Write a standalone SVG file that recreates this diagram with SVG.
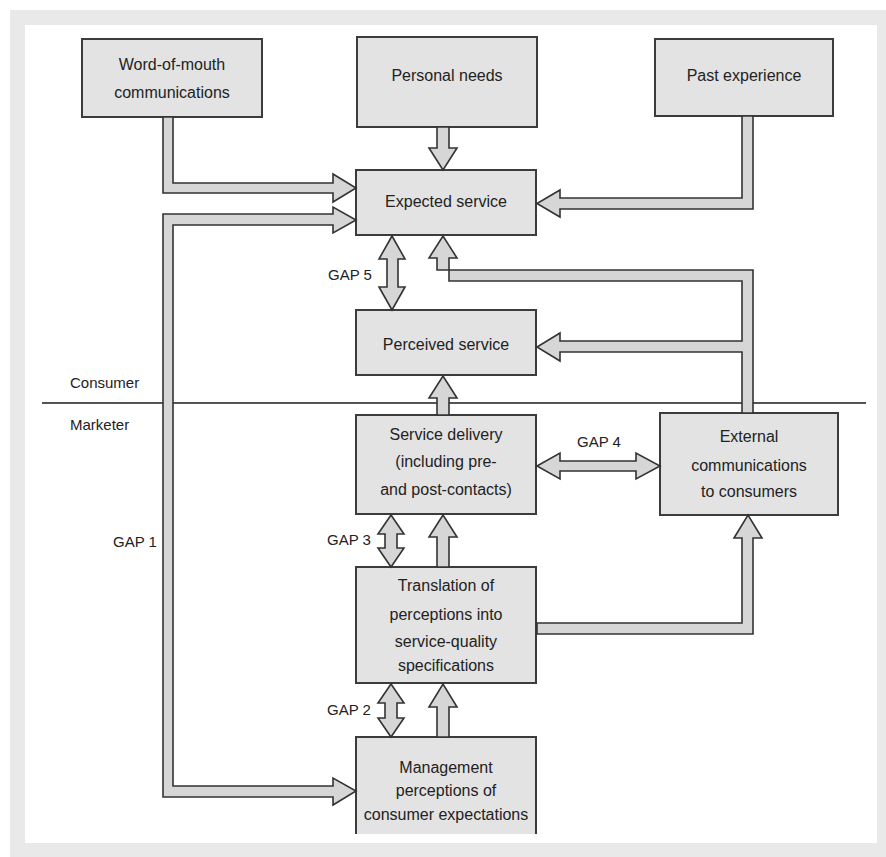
<svg xmlns="http://www.w3.org/2000/svg" width="886" height="857" viewBox="0 0 886 857">
<style>
.box{fill:#e3e3e3;stroke:#3c3c3c;stroke-width:2}
.t{font-family:"Liberation Sans",Arial,sans-serif;font-size:16px;fill:#222;text-anchor:middle}
.lbl{font-family:"Liberation Sans",Arial,sans-serif;font-size:15px;fill:#222}
.arr{fill:#d6d6d6;stroke:#333;stroke-width:1.6;stroke-linejoin:miter}
.div{stroke:#555;stroke-width:2}
</style>
<rect x="0" y="0" width="886" height="857" fill="#ffffff"/>
<rect x="10" y="10" width="876" height="847" fill="#e9e9e9"/>
<rect x="25" y="25" width="852" height="818" fill="#ffffff"/>

<line class="div" x1="42" y1="403" x2="866" y2="403"/>
<text class="lbl" x="70" y="388">Consumer</text>
<text class="lbl" x="70" y="430">Marketer</text>

<g id="word-of-mouth">
<rect class="box" x="82" y="39" width="180" height="78"/>
<text class="t" x="172" y="70">Word-of-mouth</text>
<text class="t" x="172" y="98">communications</text>
</g>
<g id="personal-needs">
<rect class="box" x="357" y="37" width="180" height="90"/>
<text class="t" x="447" y="81">Personal needs</text>
</g>
<g id="past-experience">
<rect class="box" x="655" y="39" width="178" height="77"/>
<text class="t" x="744" y="81">Past experience</text>
</g>
<g id="expected-service">
<rect class="box" x="356" y="170" width="180" height="65"/>
<text class="t" x="446" y="207">Expected service</text>
</g>
<g id="perceived-service">
<rect class="box" x="356" y="310" width="180" height="65"/>
<text class="t" x="446" y="350">Perceived service</text>
</g>
<g id="service-delivery">
<rect class="box" x="356" y="415" width="180" height="99"/>
<text class="t" x="446" y="440">Service delivery</text>
<text class="t" x="446" y="467">(including pre-</text>
<text class="t" x="446" y="495">and post-contacts)</text>
</g>
<g id="external-communications">
<rect class="box" x="660" y="413" width="178" height="102"/>
<text class="t" x="749" y="442">External</text>
<text class="t" x="749" y="471">communications</text>
<text class="t" x="749" y="497">to consumers</text>
</g>
<g id="translation">
<rect class="box" x="356" y="567" width="180" height="116"/>
<text class="t" x="446" y="591">Translation of</text>
<text class="t" x="446" y="620">perceptions into</text>
<text class="t" x="446" y="647">service-quality</text>
<text class="t" x="446" y="671">specifications</text>
</g>
<g id="management">
<rect x="356" y="737" width="180" height="97" fill="#e3e3e3"/>
<path d="M356,834 V737 H536 V834" fill="none" stroke="#3c3c3c" stroke-width="2"/>
<text class="t" x="446" y="773">Management</text>
<text class="t" x="446" y="796">perceptions of</text>
<text class="t" x="446" y="820">consumer expectations</text>
</g>

<g id="connectors">
<polygon class="arr" points="163,117 173,117 173,183 333,183 333,174 356,188 333,202 333,193 163,193"/>
<polygon class="arr" points="356,220 333,233 333,225 173,225 173,786 333,786 333,778 356,791 333,805 333,797 163,797 163,214 333,214 333,207"/>
<polygon class="arr" points="437,127 449,127 449,148 457,148 443,170 429,148 437,148"/>
<polygon class="arr" points="742,116 753,116 753,209 560,209 560,217 537,203.5 560,190 560,198 742,198"/>
<polygon class="arr" points="392,236 405,259 398,259 398,287 405,287 392,310 379,287 387,287 387,259 379,259"/>
<polygon class="arr" points="753,413 753,270 437,270 437,258 429,258 443,236 457,258 449,258 449,281 742,281 742,341 560,341 560,333 537,347 560,361 560,352 742,352 742,413"/>
<polygon class="arr" points="437,415 437,398 429,398 443,376 457,398 449,398 449,415"/>
<polygon class="arr" points="537,466 560,453 560,461 636,461 636,453 660,466 636,479 636,471 560,471 560,479"/>
<polygon class="arr" points="391,515 404,534 397,534 397,548 404,548 391,567 378,548 385,548 385,534 378,534"/>
<polygon class="arr" points="437,567 437,537 429,537 443,515 457,537 449,537 449,567"/>
<polygon class="arr" points="537,623 742,623 742,538 734,538 748,515 762,538 753,538 753,634 537,634"/>
<polygon class="arr" points="391,684 404,703 397,703 397,718 404,718 391,737 378,718 385,718 385,703 378,703"/>
<polygon class="arr" points="437,737 437,707 429,707 443,684 457,707 449,707 449,737"/>
</g>

<text class="lbl" x="328" y="280">GAP 5</text>
<text class="lbl" x="577" y="447">GAP 4</text>
<text class="lbl" x="327" y="545">GAP 3</text>
<text class="lbl" x="327" y="715">GAP 2</text>
<text class="lbl" x="113" y="547">GAP 1</text>
</svg>
